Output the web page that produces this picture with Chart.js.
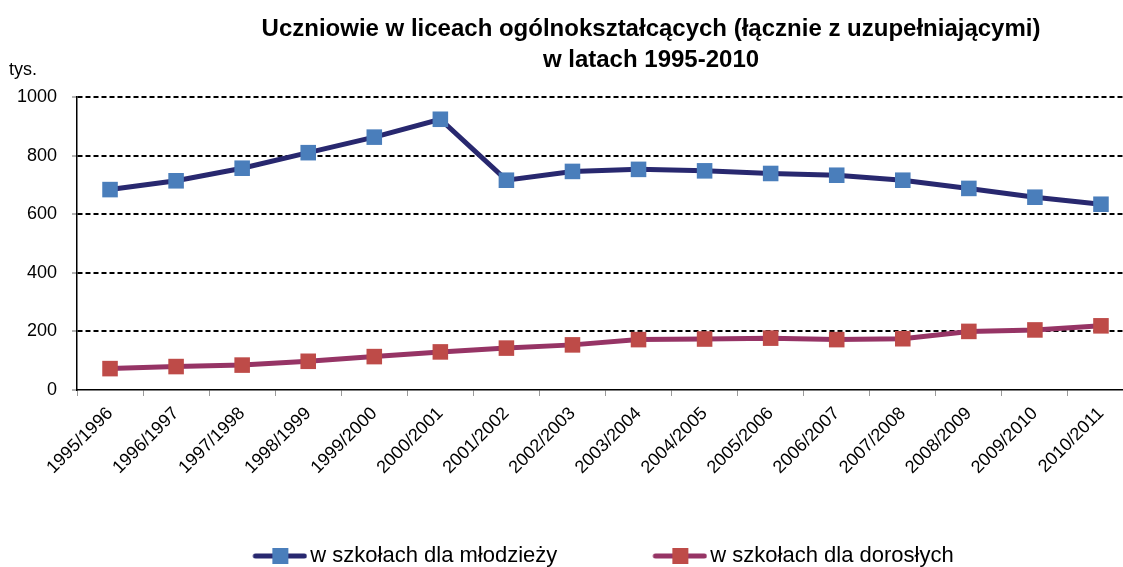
<!DOCTYPE html>
<html lang="pl">
<head>
<meta charset="utf-8">
<title>Uczniowie w liceach ogólnokształcących</title>
<script src="https://cdn.jsdelivr.net/npm/chart.js@4.4.1/dist/chart.umd.min.js"></script>
<style>
    html, body { margin: 0; padding: 0; background: #fff; overflow: hidden; }
    #wrap { width: 1123px; height: 567px; overflow: hidden; }
</style>
</head>
<body>
<!-- the original picture is cut on the right, so the canvas is a bit wider than the page -->
<div id="wrap"><canvas id="liceaChart" width="1145" height="567"></canvas></div>
<script>
// ==========================================
// DATA
// ==========================================
const lata = ['1995/1996', '1996/1997', '1997/1998', '1998/1999', '1999/2000', '2000/2001',
    '2001/2002', '2002/2003', '2003/2004', '2004/2005', '2005/2006', '2006/2007',
    '2007/2008', '2008/2009', '2009/2010', '2010/2011'];

const mlodziez = [684, 714, 757, 810, 863, 924, 716, 746, 753, 748, 739, 733, 716, 688, 658, 634];
const dorosli = [73, 80, 85, 98, 114, 130, 143, 154, 172, 174, 177, 172, 175, 200, 205, 219];

const yTicks = [0, 200, 400, 600, 800, 1000];

const tytul = ['Uczniowie w liceach ogólnokształcących (łącznie z uzupełniającymi)', 'w latach 1995-2010'];
const jednostka = 'tys.';
const nazwySerii = ['w szkołach dla młodzieży', 'w szkołach dla dorosłych'];

// ==========================================
// STYLE
// ==========================================
const SANS = '"Liberation Sans", Arial, sans-serif';

const kolory = [
    { linia: '#28286f', punkt: '#4a7ebb' },
    { linia: '#963465', punkt: '#be4b48' }
];

const LEG_BOX = 108;   // legend box width (symbol sits at its right end)

// small canvas used as legend symbol: line with a square in the middle
function symbolLegendy(kolor) {
    const c = document.createElement('canvas');
    c.width = LEG_BOX + 16;
    c.height = 18;
    const g = c.getContext('2d');
    const x0 = c.width - 55;
    g.strokeStyle = kolor.linia;
    g.lineWidth = 5;
    g.lineCap = 'round';
    g.beginPath();
    g.moveTo(x0 + 3, 9);
    g.lineTo(x0 + 52, 9);
    g.stroke();
    g.fillStyle = kolor.punkt;
    g.fillRect(x0 + 20, 1, 16, 16);
    return c;
}

// title and unit label drawn by hand, the title is not centered on the canvas
const opisy = {
    id: 'opisy',
    afterDraw(chart) {
        const ctx = chart.ctx;
        ctx.save();
        ctx.fillStyle = '#000';
        ctx.textAlign = 'center';
        ctx.textBaseline = 'middle';
        ctx.font = 'bold 24px ' + SANS;
        ctx.fillText(tytul[0], 651, 29);
        ctx.fillText(tytul[1], 651, 60);
        ctx.textAlign = 'left';
        ctx.font = '18px ' + SANS;
        ctx.fillText(jednostka, 9, 70);
        ctx.restore();
    }
};

// ==========================================
// CHART
// ==========================================
const ctx = document.getElementById('liceaChart').getContext('2d');

new Chart(ctx, {
    type: 'line',
    data: {
        labels: lata,
        datasets: [mlodziez, dorosli].map((dane, i) => ({
            label: nazwySerii[i],
            data: dane,
            borderColor: kolory[i].linia,
            borderWidth: 5,
            backgroundColor: kolory[i].punkt,
            pointStyle: 'rect',
            pointRadius: 11,
            pointBorderWidth: 0,
            pointBackgroundColor: kolory[i].punkt,
            tension: 0,
            fill: false
        }))
    },
    options: {
        responsive: false,
        animation: false,
        layout: { padding: { top: 97, right: 0, left: 0, bottom: -10 } },
        plugins: {
            title: { display: false },
            tooltip: { enabled: false },
            legend: {
                position: 'bottom',
                labels: {
                    usePointStyle: true,
                    pointStyleWidth: LEG_BOX,
                    padding: 34,
                    color: '#000',
                    font: { family: SANS, size: 22 },
                    generateLabels: (chart) => chart.data.datasets.map((ds, i) => ({
                        text: ds.label,
                        pointStyle: symbolLegendy(kolory[i]),
                        fillStyle: kolory[i].punkt,
                        strokeStyle: kolory[i].linia,
                        lineWidth: 0,
                        hidden: false,
                        datasetIndex: i
                    }))
                }
            }
        },
        scales: {
            x: {
                offset: true,
                afterFit: (scale) => {
                    scale.paddingLeft = 0;
                    scale.paddingRight = 0;
                    scale.height = 121;
                },
                grid: {
                    offset: true,
                    drawOnChartArea: false,
                    drawTicks: true,
                    tickLength: 6,
                    color: '#9a9a9a'
                },
                border: { display: true, color: '#000', width: 1.5 },
                ticks: {
                    color: '#000',
                    font: { family: SANS, size: 18 },
                    minRotation: 45,
                    maxRotation: 45,
                    padding: 7,
                    autoSkip: false
                }
            },
            y: {
                min: 0,
                max: 1000,
                afterBuildTicks: (scale) => { scale.ticks = yTicks.map(v => ({ value: v })); },
                afterFit: (scale) => { scale.width = 77; },
                grid: {
                    color: (c) => c.tick && c.tick.value === 0 ? 'rgba(0,0,0,0)' : '#000',
                    lineWidth: 2,
                    drawTicks: true,
                    tickLength: 5,
                    tickColor: '#9a9a9a',
                    tickWidth: 1.5
                },
                border: { display: true, color: '#000', width: 1.5, dash: [5, 3] },
                ticks: {
                    color: '#000',
                    font: { family: SANS, size: 18 },
                    padding: 15,
                    callback: (v) => String(v)
                }
            }
        }
    },
    plugins: [opisy]
});
</script>
</body>
</html>
